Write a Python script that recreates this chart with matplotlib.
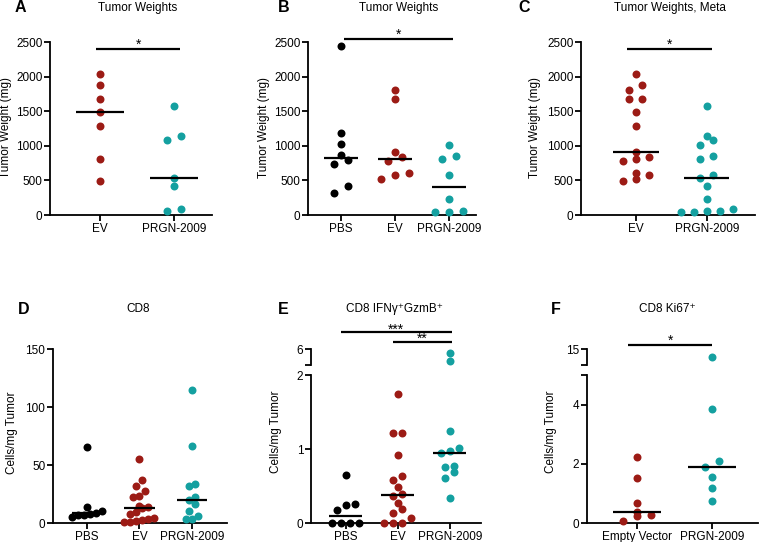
import numpy as np
import matplotlib
matplotlib.use('Agg')
import matplotlib.pyplot as plt

plt.rcParams['font.family'] = ['Liberation Sans', 'DejaVu Sans']
plt.rcParams['font.size'] = 8

RED = '#9c1b15'
TEAL = '#14a0a0'
BLACK = '#000000'

# A - tumor weights (mg)
a_groups = ['EV', 'PRGN-2009']
a_ev = [2034, 1875, 1673, 1490, 1284, 803, 495]
a_prgn = [1582, 1144, 1082, 538, 423, 91, 58]

# B - tumor weights (mg)
b_groups = ['PBS', 'EV', 'PRGN-2009']
b_pbs = [2442, 1192, 1019, 865, 788, 731, 418, 322]
b_ev = [1803, 1673, 904, 841, 784, 611, 577, 514]
b_prgn = [1005, 856, 803, 582, 231, 58, 38, 38]

# C - meta (A + B pooled)
c_groups = ['EV', 'PRGN-2009']
c_ev = a_ev + b_ev
c_prgn = a_prgn + b_prgn

# D - CD8 cells/mg
d_groups = ['PBS', 'EV', 'PRGN-2009']
d_pbs = [65.6, 13.8, 10.4, 8.6, 8.0, 6.6, 6.6, 5.5]
d_ev = [55.6, 37.4, 31.7, 27.6, 23.0, 22.5, 14.7, 13.8, 13.3, 9.5, 8.0, 4.0, 3.2, 2.5, 1.7, 1.2, 1.0]
d_prgn = [114.6, 66.5, 34.0, 32.0, 22.5, 20.0, 16.0, 10.4, 5.8, 3.7, 3.7]

# E - CD8 IFNg+ GzmB+ cells/mg
e_groups = ['PBS', 'EV', 'PRGN-2009']
e_pbs = [0.65, 0.257, 0.244, 0.176, 0, 0, 0, 0]
e_ev = [1.738, 1.21, 1.21, 0.916, 0.637, 0.58, 0.483, 0.393, 0.366, 0.267, 0.19, 0.135, 0.072, 0, 0, 0]
e_prgn = [5.46, 4.5, 1.25, 1.02, 0.975, 0.948, 0.767, 0.758, 0.69, 0.614, 0.343]

# F - CD8 Ki67+ cells/mg
f_groups = ['Empty Vector', 'PRGN-2009']
f_ev = [2.24, 1.52, 0.66, 0.37, 0.28, 0.23, 0.06]
f_prgn = [12.4, 3.84, 2.08, 1.90, 1.56, 1.17, 0.75]

W, H = 761, 542
fig = plt.figure(figsize=(W / 100, H / 100), dpi=100)


def add_ax(x0, y0, x1, y1):
    # pixel box (top-left origin) -> figure fraction
    return fig.add_axes([x0 / W, 1 - y1 / H, (x1 - x0) / W, (y1 - y0) / H])


def style(ax, show_x=True):
    for s in ['top', 'right']:
        ax.spines[s].set_visible(False)
    for s in ['left', 'bottom']:
        ax.spines[s].set_linewidth(1.3)
    ax.tick_params(direction='out', length=4, width=1.3, pad=1.5, labelsize=8.5)
    if not show_x:
        ax.spines['bottom'].set_visible(False)
        ax.set_xticks([])


def spread(ax, values, spacing_px, size_px=7):
    # GraphPad-like scatter: points closer than a dot are put side by side
    bbox = ax.get_window_extent()
    y0, y1 = ax.get_ylim()
    x0, x1 = ax.get_xlim()
    py = bbox.height / (y1 - y0)
    px = bbox.width / (x1 - x0)
    vals = np.asarray(values, dtype=float)
    order = np.argsort(vals, kind='stable')
    offsets = np.zeros(len(vals))
    groups, cur = [], []
    for i in order:
        if cur and (vals[i] - vals[cur[0]]) * py >= size_px:
            groups.append(cur)
            cur = []
        cur.append(i)
    if cur:
        groups.append(cur)
    for g in groups:
        n = len(g)
        for k, i in enumerate(g):
            offsets[i] = (k - (n - 1) / 2) * spacing_px / px
    return offsets


def dots(ax, xpos, values, color, spacing_px):
    vals = np.asarray(values, dtype=float)
    if len(vals) == 0:
        return
    off = spread(ax, vals, spacing_px)
    ax.scatter(xpos + off, vals, s=33, color=color, linewidths=0, zorder=3, clip_on=False)


def median_line(ax, xpos, values, half=0.32):
    m = np.median(values)
    ax.plot([xpos - half, xpos + half], [m, m], color='black', lw=1.6, zorder=4, solid_capstyle='butt')


def sig(ax, x1, x2, y, label, dy=0):
    ax.plot([x1, x2], [y, y], color='black', lw=1.6, clip_on=False, solid_capstyle='butt')
    ax.annotate(label, ((x1 + x2) / 2, y), xytext=(0, dy), textcoords='offset points',
                ha='center', va='bottom', fontsize=10, annotation_clip=False)


def label_panel(letter, title, lx, tx, y):
    fig.text(lx / W, 1 - y / H, letter, fontsize=11.5, fontweight='bold', ha='center', va='center')
    fig.text(tx / W, 1 - y / H, title, fontsize=8.5, ha='center', va='center')


def ylabel(text, x, y):
    fig.text(x / W, 1 - y / H, text, rotation=90, ha='center', va='center', fontsize=8.5)


# ---------- top row: tumor weights ----------
weight_ticks = [0, 500, 1000, 1500, 2000, 2500]

axA = add_ax(50, 42, 212, 215)
style(axA)
axA.set_xlim(-0.676, 1.51)
axA.set_ylim(0, 2500)
axA.set_yticks(weight_ticks)
axA.set_xticks(range(len(a_groups)))
axA.set_xticklabels(a_groups)
for i, (vals, col) in enumerate([(a_ev, RED), (a_prgn, TEAL)]):
    dots(axA, i, vals, col, 14)
    median_line(axA, i, vals)
sig(axA, -0.05, 1.08, 2400, '*', dy=-2)

axB = add_ax(308, 42, 476, 215)
style(axB)
axB.set_xlim(-0.61, 2.5)
axB.set_ylim(0, 2500)
axB.set_yticks(weight_ticks)
axB.set_xticks(range(len(b_groups)))
axB.set_xticklabels(b_groups)
for i, (vals, col) in enumerate([(b_pbs, BLACK), (b_ev, RED), (b_prgn, TEAL)]):
    dots(axB, i, vals, col, 14)
    median_line(axB, i, vals)
sig(axB, 0.06, 2.07, 2543, '*', dy=-2)

axC = add_ax(581, 42, 755, 215)
style(axC)
axC.set_xlim(-0.775, 1.68)
axC.set_ylim(0, 2500)
axC.set_yticks(weight_ticks)
axC.set_xticks(range(len(c_groups)))
axC.set_xticklabels(c_groups)
for i, (vals, col) in enumerate([(c_ev, RED), (c_prgn, TEAL)]):
    dots(axC, i, vals, col, 13)
    median_line(axC, i, vals)
sig(axC, -0.13, 1.07, 2400, '*', dy=-2)

label_panel('A', 'Tumor Weights', 20, 138, 8)
label_panel('B', 'Tumor Weights', 284, 399, 8)
label_panel('C', 'Tumor Weights, Meta', 524, 670, 8)
ylabel('Tumor Weight (mg)', 6, 128)
ylabel('Tumor Weight (mg)', 264, 128)
ylabel('Tumor Weight (mg)', 535, 128)

# ---------- bottom row: cells/mg tumor ----------
axD = add_ax(53, 349, 227, 523)
style(axD)
axD.set_xlim(-0.65, 2.67)
axD.set_ylim(0, 150)
axD.set_yticks([0, 50, 100, 150])
axD.set_xticks(range(len(d_groups)))
axD.set_xticklabels(d_groups)
for i, (vals, col) in enumerate([(d_pbs, BLACK), (d_ev, RED), (d_prgn, TEAL)]):
    dots(axD, i, vals, col, 6)
    median_line(axD, i, vals, half=0.29)

# E: broken axis (0-2 lower, 4-6 upper)
e_split = 2
axE = add_ax(311, 375, 481, 523)
axEu = add_ax(311, 349, 481, 365)
style(axE)
style(axEu, show_x=False)
for ax in (axE, axEu):
    ax.set_xlim(-0.67, 2.6)
axE.set_ylim(0, 2)
axEu.set_ylim(4, 6)
axE.set_yticks([0, 1, 2])
axEu.set_yticks([4, 6])
axEu.set_yticklabels(['', '6'])
axE.set_xticks(range(len(e_groups)))
axE.set_xticklabels(e_groups)
for i, (vals, col) in enumerate([(e_pbs, BLACK), (e_ev, RED), (e_prgn, TEAL)]):
    v = np.asarray(vals)
    dots(axE, i, v[v <= e_split], col, 9)
    dots(axEu, i, v[v > e_split], col, 9)
    median_line(axE, i, vals)
sig(axEu, -0.1, 2.04, 8.1, '***', dy=-3)
sig(axEu, 0.9, 2.04, 6.9, '**', dy=-3)

# F: broken axis (0-5 lower, 10-15 upper)
f_split = 5
axF = add_ax(587, 375, 758, 523)
axFu = add_ax(587, 349, 758, 365)
style(axF)
style(axFu, show_x=False)
for ax in (axF, axFu):
    ax.set_xlim(-0.67, 1.61)
axF.set_ylim(0, 5)
axFu.set_ylim(10, 15)
axF.set_yticks([0, 2, 4, 5])
axF.set_yticklabels(['0', '2', '4', ''])
axFu.set_yticks([10, 15])
axFu.set_yticklabels(['', '15'])
axF.set_xticks(range(len(f_groups)))
axF.set_xticklabels(f_groups)
for i, (vals, col) in enumerate([(f_ev, RED), (f_prgn, TEAL)]):
    v = np.asarray(vals)
    dots(axF, i, v[v <= f_split], col, 14)
    dots(axFu, i, v[v > f_split], col, 14)
    median_line(axF, i, vals)
sig(axFu, -0.12, 1.0, 16.25, '*', dy=-2)

label_panel('D', 'CD8', 24, 138, 309)
label_panel('E', 'CD8 IFN\u03b3\u207aGzmB\u207a', 283, 394, 309)
label_panel('F', 'CD8 Ki67\u207a', 556, 667, 309)
ylabel('Cells/mg Tumor', 12, 433)
ylabel('Cells/mg Tumor', 276, 432)
ylabel('Cells/mg Tumor', 551, 432)

fig.savefig('out.png', dpi=100)
